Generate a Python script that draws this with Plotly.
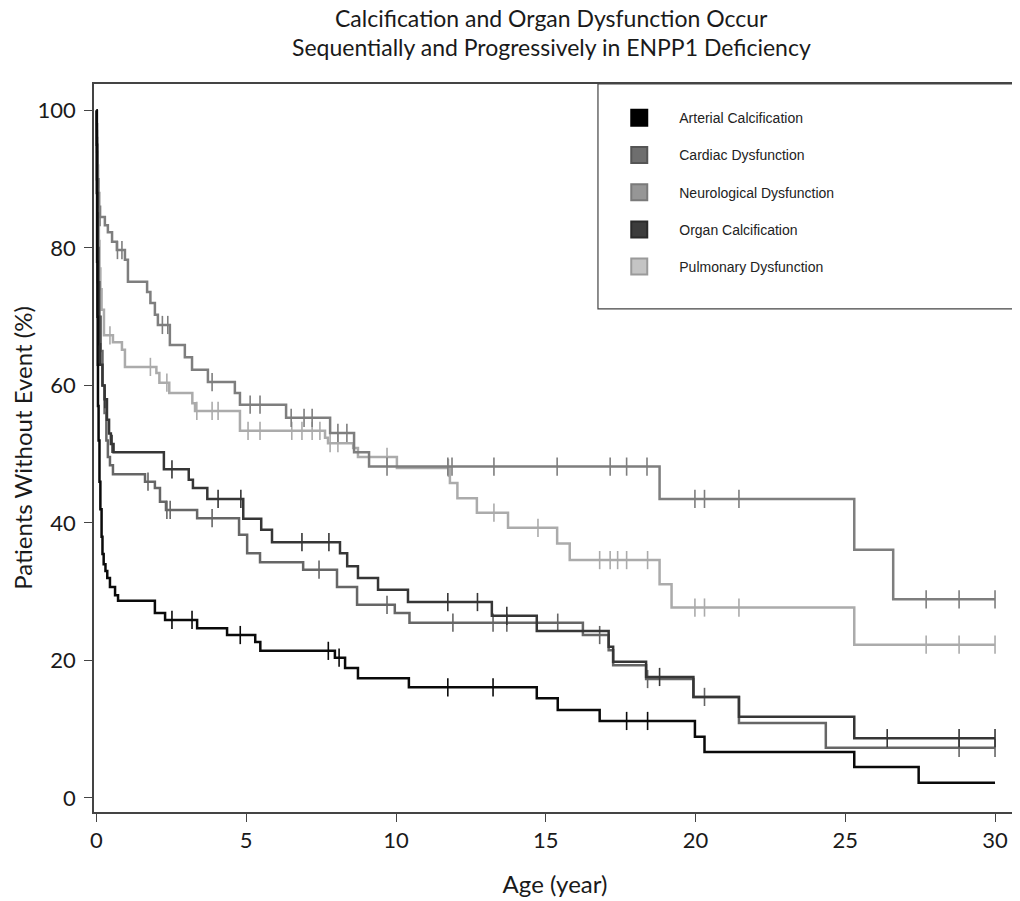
import numpy as np
import plotly.graph_objects as go

# ---------------- data ----------------
title_lines = ["Calcification and Organ Dysfunction Occur",
               "Sequentially and Progressively in ENPP1 Deficiency"]
series_names = ["Arterial Calcification", "Cardiac Dysfunction", "Neurological Dysfunction",
                "Organ Calcification", "Pulmonary Dysfunction"]

art_t = [0, 0.01, 0.02, 0.03, 0.04, 0.05, 0.07, 0.1, 0.13, 0.17, 0.2, 0.24, 0.3, 0.36, 0.45, 0.62, 0.72,
         1.95, 2.29, 3.36, 4.36, 5.3, 5.47, 7.96, 8.3, 8.73, 10.43, 14.7, 15.4, 16.8, 19.98, 20.3, 25.3, 27.45, 30.0]
art_s = [100, 88, 78, 70, 63, 57, 52, 46, 42, 38, 35.5, 34, 33, 32, 30.7, 29.5, 28.7,
         26.9, 25.9, 24.7, 23.7, 22.7, 21.4, 20.4, 18.9, 17.4, 16.1, 14.5, 12.8, 11.2, 8.9, 6.7, 4.5, 2.2, 2.2]
art_c = [2.52, 3.19, 4.8, 7.74, 8.1, 11.73, 13.24, 17.7, 18.4]

car_t = [0, 0.01, 0.02, 0.03, 0.05, 0.07, 0.1, 0.14, 0.2, 0.27, 0.33, 0.38, 0.45, 0.55, 1.62, 1.95, 2.12, 2.32,
         3.36, 4.76, 5.03, 5.46, 6.9, 8.03, 8.7, 9.96, 10.45, 16.24, 17.1, 17.25, 18.35, 19.93, 21.45, 24.35, 30.0]
car_s = [100, 95, 90, 85, 80, 75, 70, 65, 60, 56, 52, 49.6, 48.4, 47.1, 46.0, 45.1, 43.1, 41.9,
         40.7, 38.3, 35.6, 34.3, 33.2, 30.7, 28.1, 26.9, 25.5, 23.7, 21.5, 19.3, 17.3, 14.7, 10.9, 7.3, 7.3]
car_c = [1.72, 2.35, 2.46, 3.86, 7.43, 9.7, 11.9, 13.24, 13.7, 15.4, 16.8, 18.4, 20.3, 28.8, 30.0]

neu_t = [0, 0.01, 0.02, 0.03, 0.04, 0.05, 0.07, 0.09, 0.12, 0.28, 0.38, 0.52, 0.68, 0.95, 1.05, 1.69, 1.8,
         1.95, 2.05, 2.45, 2.95, 3.19, 3.72, 4.62, 4.79, 6.33, 7.8, 8.6, 9.1, 18.8, 25.3, 26.6, 30.0]
neu_s = [100, 98, 96, 94, 92, 90, 88, 86, 84.5, 83.3, 82.3, 80.9, 79.7, 78.3, 75.1, 73.6, 72.0,
         70.3, 68.8, 65.9, 64.1, 62.3, 60.5, 58.9, 57.2, 55.3, 53.1, 50.3, 48.2, 43.5, 36.1, 28.9, 28.9]
neu_c = [0.03, 0.06, 0.12, 0.7, 0.85, 2.2, 2.38, 3.86, 5.13, 5.46, 6.5, 6.93, 7.2, 8.06, 8.36, 9.7,
         11.73, 11.87, 13.27, 15.38, 17.15, 17.7, 18.38, 19.98, 20.3, 21.45, 27.7, 28.8, 30.0]

org_t = [0, 0.01, 0.02, 0.03, 0.04, 0.05, 0.07, 0.09, 0.12, 0.2, 0.27, 0.35, 0.42, 0.48, 0.57, 2.25, 3.08, 3.22,
         3.7, 4.9, 5.5, 5.86, 8.13, 8.37, 8.73, 9.4, 10.4, 13.2, 14.7, 17.1, 17.25, 18.35, 19.93, 21.45, 25.3, 30.0]
org_s = [100, 95, 90, 85, 80, 75, 70, 66, 63, 60, 58, 55, 53, 51.5, 50.3, 47.8, 46.3, 45.1,
         43.5, 40.6, 39.0, 37.2, 35.6, 33.7, 32.0, 30.3, 28.5, 26.5, 24.3, 22.0, 19.8, 17.6, 14.7, 11.8, 8.7, 8.7]
org_c = [0.28, 0.52, 2.52, 4.06, 4.82, 6.86, 7.76, 11.73, 12.72, 13.7, 18.8, 26.4, 28.8, 30.0]

pul_t = [0, 0.01, 0.02, 0.03, 0.04, 0.06, 0.08, 0.1, 0.13, 0.17, 0.25, 0.55, 0.85, 0.95, 2.0, 2.1, 2.43,
         3.2, 3.29, 4.79, 7.63, 7.73, 8.57, 8.73, 10.03, 11.8, 12.05, 12.7, 13.74, 15.38, 15.8, 18.8, 19.2, 25.3, 30.0]
pul_s = [100, 97, 94, 91, 88, 85, 81, 77, 74, 71, 67.3, 66.3, 65.2, 62.7, 61.8, 60.4, 58.9,
         57.4, 56.3, 53.4, 52.4, 51.6, 50.9, 49.6, 48.0, 45.8, 43.6, 41.5, 39.3, 37.0, 34.6, 31.1, 27.7, 22.3, 22.3]
pul_c = [0.45, 1.8, 2.35, 3.35, 3.86, 4.06, 5.06, 5.46, 6.52, 6.86, 7.2, 7.46, 7.8, 8.06, 9.7, 11.75,
         13.27, 14.74, 16.8, 17.15, 17.4, 17.7, 18.4, 19.98, 20.3, 21.45, 27.7, 28.8, 30.0]

x_ticks = [0, 5, 10, 15, 20, 25, 30]
y_ticks = [0, 20, 40, 60, 80, 100]

# ---------------- styling ----------------
line_colors = {
    "Arterial Calcification": "#0a0a0a",
    "Cardiac Dysfunction": "#666666",
    "Neurological Dysfunction": "#7e7e7e",
    "Organ Calcification": "#363636",
    "Pulmonary Dysfunction": "#ababab",
}
legend_fill = {
    "Arterial Calcification": "#000000",
    "Cardiac Dysfunction": "#6e6e6e",
    "Neurological Dysfunction": "#969696",
    "Organ Calcification": "#3c3c3c",
    "Pulmonary Dysfunction": "#c4c4c4",
}
legend_edge = {
    "Arterial Calcification": "#000000",
    "Cardiac Dysfunction": "#555555",
    "Neurological Dysfunction": "#7a7a7a",
    "Organ Calcification": "#2a2a2a",
    "Pulmonary Dysfunction": "#9a9a9a",
}

data = {
    "Arterial Calcification": (art_t, art_s, art_c),
    "Cardiac Dysfunction": (car_t, car_s, car_c),
    "Neurological Dysfunction": (neu_t, neu_s, neu_c),
    "Organ Calcification": (org_t, org_s, org_c),
    "Pulmonary Dysfunction": (pul_t, pul_s, pul_c),
}

draw_order = ["Pulmonary Dysfunction", "Neurological Dysfunction", "Cardiac Dysfunction",
              "Organ Calcification", "Arterial Calcification"]

fig = go.Figure()

for name in draw_order:
    t, s, c = data[name]
    col = line_colors[name]
    fig.add_trace(go.Scatter(x=t, y=s, mode="lines", line=dict(shape="hv", color=col, width=2.5),
                             showlegend=False, hoverinfo="skip"))
    ta = np.array(t)
    sa = np.array(s)
    idx = np.searchsorted(ta, np.array(c), side="right") - 1
    fig.add_trace(go.Scatter(x=c, y=sa[idx], mode="markers",
                             marker=dict(symbol="line-ns", size=13, line=dict(color=col, width=1.6)),
                             showlegend=False, hoverinfo="skip"))

for i, name in enumerate(series_names):
    fig.add_trace(go.Scatter(x=[None], y=[None], mode="markers", name=name, legendgroup="g%d" % i,
                             marker=dict(symbol="square", size=20, color=legend_fill[name],
                                         line=dict(color=legend_edge[name], width=2))))

# legend frame
fig.add_shape(type="rect", xref="paper", yref="paper", x0=0.5466, x1=1.0, y0=0.691, y1=1.0,
              line=dict(color="#444444", width=1.2), fillcolor="rgba(0,0,0,0)", layer="above")

# two-line chart title, one annotation per line
for line_text, ypos in zip(title_lines, [1.0907, 1.0508]):
    fig.add_annotation(text=line_text, xref="paper", yref="paper", x=0.4957, y=ypos,
                       xanchor="center", yanchor="middle", showarrow=False,
                       font=dict(family="Lato", size=23, color="#1a1a1a"))

# the page adds an 8 px body margin, so margins are reduced by 8 on the left/top
fig.update_layout(
    width=1020, height=901,
    margin=dict(l=86, r=12, t=76, b=97, autoexpand=False),
    paper_bgcolor="white", plot_bgcolor="white",
    legend=dict(x=0.548, y=0.975, xanchor="left", yanchor="top", bgcolor="rgba(0,0,0,0)",
                font=dict(family="Liberation Sans, Arial", size=14, color="#222222"),
                tracegroupgap=16, traceorder="grouped", itemwidth=70),
    showlegend=True,
)

fig.update_xaxes(range=[-0.083, 30.70], tickvals=x_ticks, ticks="outside", ticklen=8, tickwidth=1.2,
                 tickcolor="#444444", showline=True, linecolor="#444444", linewidth=1.5, mirror=True,
                 showgrid=False, zeroline=False, automargin=False,
                 tickfont=dict(family="Lato", size=22, color="#1a1a1a"),
                 title=dict(text="Age (year)", font=dict(family="Lato", size=24, color="#1a1a1a"), standoff=24))
fig.update_yaxes(range=[-2.04, 103.85], tickvals=y_ticks, ticks="outside", ticklen=8, tickwidth=1.2,
                 tickcolor="#444444", showline=True, linecolor="#444444", linewidth=1.5, mirror=True,
                 showgrid=False, zeroline=False, automargin=False, ticklabelstandoff=4,
                 tickfont=dict(family="Lato", size=22, color="#1a1a1a"),
                 title=dict(text="Patients Without Event (%)", font=dict(family="Lato", size=24, color="#1a1a1a"),
                            standoff=2))

fig.write_html("out.html")
